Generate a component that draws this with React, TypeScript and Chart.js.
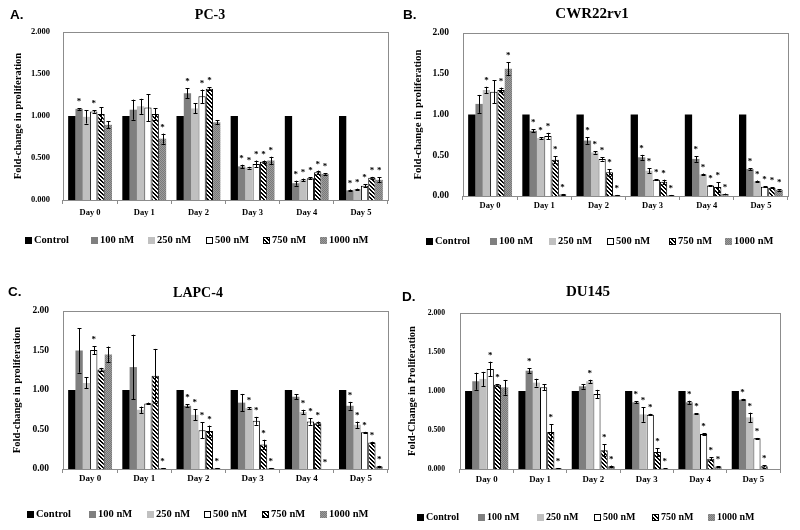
import React, { useEffect, useRef } from "react";
import { Chart, registerables } from "chart.js";
Chart.register(...registerables);

const days = ["Day 0", "Day 1", "Day 2", "Day 3", "Day 4", "Day 5"];
const seriesNames = ["Control", "100 nM", "250 nM", "500 nM", "750 nM", "1000 nM"];

// ---- A. PC-3 ----
const pc3Values = [
  [1, 1, 1, 1, 1, 1],
  [1.085, 1.075, 1.27, 0.4, 0.2, 0.115],
  [0.99, 1.115, 1.09, 0.385, 0.24, 0.13],
  [1.055, 1.1, 1.235, 0.43, 0.26, 0.17],
  [1.025, 1.025, 1.325, 0.455, 0.33, 0.265],
  [0.895, 0.73, 0.925, 0.47, 0.31, 0.24],
];
const pc3Errors = [
  [0, 0, 0, 0, 0, 0],
  [0.01, 0.12, 0.06, 0.02, 0.03, 0.01],
  [0.08, 0.09, 0.06, 0.01, 0.015, 0.005],
  [0.015, 0.16, 0.08, 0.04, 0.01, 0.015],
  [0.08, 0.07, 0.015, 0.015, 0.02, 0.01],
  [0.04, 0.06, 0.025, 0.045, 0.01, 0.03],
];
const pc3Stars = [
  [0, 0, 0, 0, 0, 0],
  [1, 0, 1, 1, 1, 1],
  [0, 0, 0, 1, 1, 1],
  [1, 0, 1, 1, 1, 1],
  [0, 0, 1, 1, 1, 1],
  [0, 1, 0, 1, 1, 1],
];

// ---- B. CWR22rv1 ----
const cwrValues = [
  [1, 1, 1, 1, 1, 1],
  [1.13, 0.8, 0.68, 0.475, 0.455, 0.33],
  [1.3, 0.71, 0.535, 0.31, 0.265, 0.18],
  [1.28, 0.735, 0.455, 0.2, 0.13, 0.115],
  [1.3, 0.445, 0.29, 0.175, 0.11, 0.1],
  [1.56, 0.02, 0.01, 0.01, 0.025, 0.075],
];
const cwrErrors = [
  [0, 0, 0, 0, 0, 0],
  [0.11, 0.02, 0.04, 0.03, 0.035, 0.01],
  [0.04, 0.01, 0.015, 0.03, 0.01, 0.01],
  [0.14, 0.04, 0.02, 0.005, 0.005, 0.005],
  [0.03, 0.04, 0.04, 0.025, 0.06, 0.005],
  [0.08, 0.005, 0.003, 0.003, 0.005, 0.01],
];
const cwrStars = [
  [0, 0, 0, 0, 0, 0],
  [0, 1, 1, 1, 1, 1],
  [1, 1, 1, 1, 1, 1],
  [0, 1, 1, 1, 1, 1],
  [1, 1, 1, 1, 1, 1],
  [1, 1, 1, 1, 1, 1],
];

// ---- C. LAPC-4 ----
const lapcValues = [
  [1, 1, 1, 1, 1, 1],
  [1.5, 1.29, 0.8, 0.84, 0.915, 0.8],
  [1.09, 0.75, 0.685, 0.77, 0.72, 0.56],
  [1.505, 0.83, 0.49, 0.61, 0.6, 0.465],
  [1.26, 1.18, 0.48, 0.31, 0.58, 0.335],
  [1.45, 0.01, 0.01, 0.01, 0.0, 0.03],
];
const lapcErrors = [
  [0, 0, 0, 0, 0, 0],
  [0.28, 0.41, 0.02, 0.11, 0.03, 0.05],
  [0.07, 0.04, 0.07, 0.01, 0.03, 0.04],
  [0.05, 0.01, 0.1, 0.05, 0.04, 0.005],
  [0.02, 0.34, 0.07, 0.06, 0.02, 0.01],
  [0.1, 0.003, 0.003, 0.003, 0, 0.01],
];
const lapcStars = [
  [0, 0, 0, 0, 0, 0],
  [0, 0, 1, 0, 0, 1],
  [0, 0, 1, 1, 1, 1],
  [1, 0, 1, 1, 1, 1],
  [0, 0, 1, 1, 1, 1],
  [0, 1, 1, 1, 1, 1],
];

// ---- D. DU145 ----
const duValues = [
  [1, 1, 1, 1, 1, 1],
  [1.125, 1.26, 1.06, 0.855, 0.855, 0.889],
  [1.155, 1.107, 1.124, 0.7, 0.71, 0.662],
  [1.282, 1.047, 0.96, 0.697, 0.449, 0.393],
  [1.08, 0.474, 0.24, 0.218, 0.132, 0.034],
  [1.047, 0.01, 0.034, 0.005, 0.03, 0.0],
];
const duErrors = [
  [0, 0, 0, 0, 0, 0],
  [0.11, 0.035, 0.03, 0.015, 0.02, 0.01],
  [0.09, 0.05, 0.02, 0.095, 0.005, 0.06],
  [0.094, 0.04, 0.055, 0.01, 0.01, 0.005],
  [0.01, 0.1, 0.075, 0.047, 0.02, 0.015],
  [0.095, 0.003, 0.01, 0.003, 0.005, 0],
];
const duStars = [
  [0, 0, 0, 0, 0, 0],
  [0, 1, 0, 1, 1, 1],
  [0, 0, 1, 1, 1, 1],
  [1, 0, 0, 1, 1, 1],
  [1, 1, 1, 1, 1, 1],
  [0, 1, 1, 1, 1, 0],
];

const SERIF = "'Liberation Serif', 'Times New Roman', serif";
const SANS = "'Liberation Sans', Arial, sans-serif";

type PanelCfg = {
  letter: string;
  title: string;
  yLabel: string;
  decimals: number;
  values: number[][];
  errors: number[][];
  stars: number[][];
  left: number;
  top: number;
  pad: { top: number; right: number; bottom: number };
  yWidth: number;
  tickSize: number;
  tickPad: number;
  daySize: number;
  dayPad: number;
  yTitleSize: number;
  yTitlePad: number;
  titleSize: number;
  titleX: number;
  titleY: number;
  letterX: number;
  letterY: number;
  legendX: number;
  legendY: number;
  legendOffsets: number[];
  legendSize: number;
};

const panels: PanelCfg[] = [
  {
    letter: "A.", title: "PC-3", yLabel: "Fold-change in proliferation", decimals: 3,
    values: pc3Values, errors: pc3Errors, stars: pc3Stars, left: 0, top: 0,
    pad: { top: 32, right: 12, bottom: 45 }, yWidth: 63, tickSize: 8.5, tickPad: 5,
    daySize: 8.5, dayPad: 3.5, yTitleSize: 10.5, yTitlePad: 12, titleSize: 14,
    titleX: 210, titleY: 15, letterX: 10, letterY: 15, legendX: 25, legendY: 240,
    legendOffsets: [0, 66, 123, 181, 238, 295], legendSize: 10.5,
  },
  {
    letter: "B.", title: "CWR22rv1", yLabel: "Fold-change in proliferation", decimals: 2,
    values: cwrValues, errors: cwrErrors, stars: cwrStars, left: 400, top: 0,
    pad: { top: 33, right: 12, bottom: 49 }, yWidth: 63, tickSize: 9.5, tickPad: 6,
    daySize: 8.5, dayPad: 0.5, yTitleSize: 10.8, yTitlePad: 12, titleSize: 15,
    titleX: 192, titleY: 14, letterX: 3, letterY: 15, legendX: 26, legendY: 241,
    legendOffsets: [0, 64, 123, 181, 243, 299], legendSize: 10.5,
  },
  {
    letter: "C.", title: "LAPC-4", yLabel: "Fold-change in proliferation", decimals: 2,
    values: lapcValues, errors: lapcErrors, stars: lapcStars, left: 0, top: 265,
    pad: { top: 46, right: 12, bottom: 41 }, yWidth: 63, tickSize: 9.5, tickPad: 6,
    daySize: 9, dayPad: 0.5, yTitleSize: 10.5, yTitlePad: 11, titleSize: 14,
    titleX: 198, titleY: 28, letterX: 8, letterY: 27, legendX: 27, legendY: 249,
    legendOffsets: [0, 62, 120, 177, 235, 293], legendSize: 10.5,
  },
  {
    letter: "D.", title: "DU145", yLabel: "Fold-Change in Proliferation", decimals: 3,
    values: duValues, errors: duErrors, stars: duStars, left: 400, top: 265,
    pad: { top: 48, right: 20, bottom: 41 }, yWidth: 60, tickSize: 7.7, tickPad: 7,
    daySize: 8.8, dayPad: 1, yTitleSize: 10.5, yTitlePad: 6, titleSize: 15,
    titleX: 188, titleY: 27, letterX: 2, letterY: 32, legendX: 17, legendY: 252,
    legendOffsets: [0, 61, 120, 177, 235, 291], legendSize: 10,
  },
];

function makeHatch(): CanvasPattern {
  const c = document.createElement("canvas");
  c.width = 4;
  c.height = 4;
  const g = c.getContext("2d")!;
  g.fillStyle = "#ffffff";
  g.fillRect(0, 0, 4, 4);
  g.fillStyle = "#000000";
  for (let y = 0; y < 4; y++)
    for (let x = 0; x < 4; x++) if ((((x - y) % 4) + 4) % 4 < 2) g.fillRect(x, y, 1, 1);
  return g.createPattern(c, "repeat")!;
}

function makeDots(): CanvasPattern {
  const c = document.createElement("canvas");
  c.width = 2;
  c.height = 2;
  const g = c.getContext("2d")!;
  g.fillStyle = "#9c9c9c";
  g.fillRect(0, 0, 2, 2);
  g.fillStyle = "#7a7a7a";
  g.fillRect(0, 0, 1, 1);
  g.fillRect(1, 1, 1, 1);
  return g.createPattern(c, "repeat")!;
}

function Panel({ p }: { p: PanelCfg }) {
  const ref = useRef<HTMLCanvasElement>(null);
  useEffect(() => {
    const hatch = makeHatch();
    const dots = makeDots();
    const fills: any[] = ["#000000", "#7f7f7f", "#c0c0c0", "#ffffff", hatch, dots];
    const borders = ["#000000", "#6a6a6a", "#9a9a9a", "#000000", "#000000", "#6a6a6a"];
    const widths = [0, 0, 0, 1, 1, 0];

    const extras = {
      id: "panelExtras",
      afterDatasetsDraw(chart: any) {
        const ctx = chart.ctx as CanvasRenderingContext2D;
        const ys = chart.scales.y;
        ctx.save();
        chart.data.datasets.forEach((ds: any, i: number) => {
          const meta = chart.getDatasetMeta(i);
          meta.data.forEach((bar: any, j: number) => {
            const v = ds.data[j] as number;
            const e = p.errors[i][j];
            const x = Math.round(bar.x) + 0.5;
            const yTop = ys.getPixelForValue(v + e);
            if (e > 0) {
              const yBot = ys.getPixelForValue(Math.max(0, v - e));
              ctx.strokeStyle = "#000";
              ctx.lineWidth = 1;
              ctx.beginPath();
              ctx.moveTo(x, yBot);
              ctx.lineTo(x, yTop);
              ctx.moveTo(x - 2, Math.round(yTop) + 0.5);
              ctx.lineTo(x + 2, Math.round(yTop) + 0.5);
              ctx.moveTo(x - 2, Math.round(yBot) + 0.5);
              ctx.lineTo(x + 2, Math.round(yBot) + 0.5);
              ctx.stroke();
            }
            if (p.stars[i][j]) {
              ctx.fillStyle = "#000";
              ctx.font = `bold 9px ${SERIF}`;
              ctx.textAlign = "center";
              ctx.textBaseline = "alphabetic";
              ctx.fillText("*", bar.x, yTop - 4);
            }
          });
        });
        ctx.restore();
      },
      afterDraw(chart: any) {
        const ctx = chart.ctx as CanvasRenderingContext2D;
        const a = chart.chartArea;
        ctx.save();
        // plot border
        ctx.strokeStyle = "#8c8c8c";
        ctx.lineWidth = 1;
        ctx.strokeRect(Math.round(a.left) + 0.5, Math.round(a.top) + 0.5, Math.round(a.right - a.left), Math.round(a.bottom - a.top));
        // panel letter
        ctx.fillStyle = "#000";
        ctx.font = `bold 13.5px ${SANS}`;
        ctx.textAlign = "left";
        ctx.textBaseline = "middle";
        ctx.fillText(p.letter, p.letterX, p.letterY);
        // title
        ctx.font = `bold ${p.titleSize}px ${SERIF}`;
        ctx.textAlign = "center";
        ctx.fillText(p.title, p.titleX, p.titleY);
        // legend
        const box = 7;
        ctx.font = `bold ${p.legendSize}px ${SERIF}`;
        ctx.textAlign = "left";
        chart.data.datasets.forEach((ds: any, k: number) => {
          const x0 = p.legendX + p.legendOffsets[k];
          const y0 = Math.round(p.legendY - box / 2);
          ctx.fillStyle = ds.backgroundColor;
          ctx.fillRect(x0, y0, box, box);
          if (k === 3 || k === 4) {
            ctx.strokeStyle = "#000";
            ctx.strokeRect(x0 + 0.5, y0 + 0.5, box - 1, box - 1);
          }
          ctx.fillStyle = "#000";
          ctx.fillText(ds.label, x0 + box + 2, p.legendY + 0.5);
        });
        ctx.restore();
      },
    };

    const chart = new Chart(ref.current!, {
      type: "bar",
      data: {
        labels: days,
        datasets: seriesNames.map((n, i) => ({
          label: n,
          data: p.values[i],
          backgroundColor: fills[i],
          borderColor: borders[i],
          borderWidth: widths[i],
          categoryPercentage: 0.81,
          barPercentage: 1,
        })),
      },
      options: {
        responsive: false,
        animation: false,
        events: [],
        layout: { padding: { left: 0, top: p.pad.top, right: p.pad.right, bottom: p.pad.bottom } },
        plugins: { legend: { display: false }, title: { display: false }, tooltip: { enabled: false } },
        scales: {
          x: {
            grid: { display: true, drawOnChartArea: false, drawTicks: true, tickLength: 4, color: "#8c8c8c", offset: true },
            border: { display: false },
            ticks: {
              font: { family: SERIF, size: p.daySize, weight: "bold" },
              color: "#000",
              padding: p.dayPad,
              maxRotation: 0,
              autoSkip: false,
            },
            afterFit: (s: any) => {
              s.height = 20;
            },
          },
          y: {
            min: 0,
            max: 2,
            ticks: {
              stepSize: 0.5,
              callback: (v: any) => Number(v).toFixed(p.decimals),
              font: { family: SERIF, size: p.tickSize, weight: "bold" },
              color: "#000",
              padding: p.tickPad,
            },
            grid: { display: false },
            border: { display: false },
            title: {
              display: true,
              text: p.yLabel,
              font: { family: SERIF, size: p.yTitleSize, weight: "bold" },
              color: "#000",
              padding: { top: p.yTitlePad, bottom: 0 },
            },
            afterFit: (s: any) => {
              s.width = p.yWidth;
            },
          },
        },
      } as any,
      plugins: [extras],
    });
    return () => chart.destroy();
  }, []);
  return (
    <div style={{ position: "absolute", left: p.left, top: p.top, width: 400, height: 265 }}>
      <canvas ref={ref} width={400} height={265} style={{ display: "block" }} />
    </div>
  );
}

export default function App() {
  return (
    <div style={{ position: "fixed", left: 0, top: 0, width: 800, height: 530, background: "#fff" }}>
      {panels.map((p) => (
        <Panel key={p.letter} p={p} />
      ))}
    </div>
  );
}
